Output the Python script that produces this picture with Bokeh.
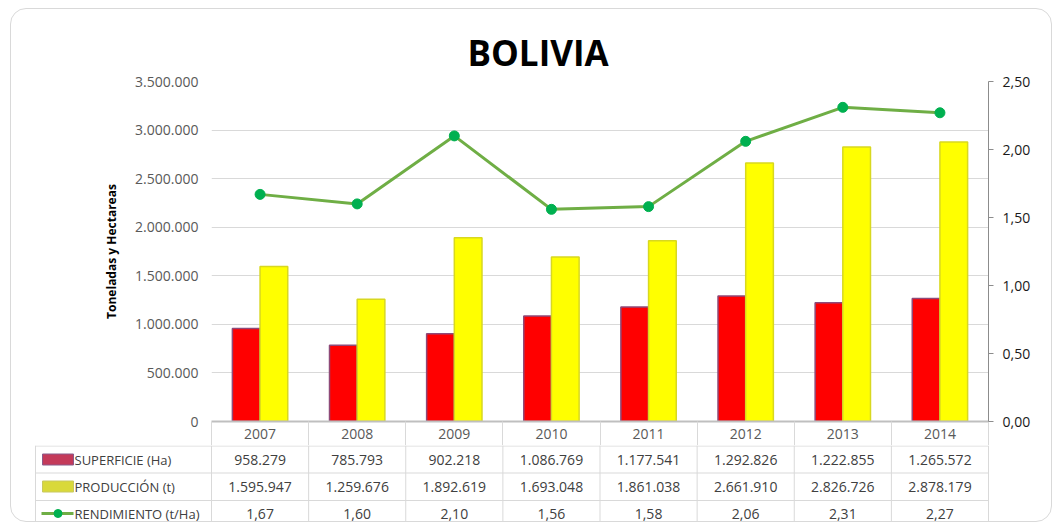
from bokeh.plotting import figure
from bokeh.layouts import column
from bokeh.models import (Range1d, LinearAxis, FixedTicker, CustomJSTickFormatter,
                          ColumnDataSource)
from bokeh.core.properties import value
from bokeh.transform import dodge
from bokeh.embed import file_html
from bokeh.resources import INLINE

# ---------------- data ----------------
years = ["2007", "2008", "2009", "2010", "2011", "2012", "2013", "2014"]
superficie = [958279, 785793, 902218, 1086769, 1177541, 1292826, 1222855, 1265572]
produccion = [1595947, 1259676, 1892619, 1693048, 1861038, 2661910, 2826726, 2878179]
rendimiento = [1.67, 1.60, 2.10, 1.56, 1.58, 2.06, 2.31, 2.27]
left_ticks = [0, 500000, 1000000, 1500000, 2000000, 2500000, 3000000, 3500000]
right_ticks = [0.0, 0.5, 1.0, 1.5, 2.0, 2.5]
series_names = ["SUPERFICIE (Ha)", "PRODUCCIÓN (t)", "RENDIMIENTO (t/Ha)"]
title_text = "BOLIVIA"
y_label = "Toneladas y Hectareas"

# ---------------- layout (page pixels) ----------------
N = len(years)
Y_MAX = left_ticks[-1]
Y2_MAX = right_ticks[-1]
BOX_L, BOX_T = 10, 8          # rounded chart border
BORDER = 1
OX, OY = BOX_L + BORDER, BOX_T + BORDER   # content origin
CONTENT_W = 1040
FRAME_L, FRAME_T, FRAME_W, FRAME_H = 211, 81, 777, 340
FRAME_R = FRAME_L + FRAME_W
FRAME_B = FRAME_T + FRAME_H
HEADER_B = 445                 # bottom of the year row (x axis panel)
HEADER_H = HEADER_B - FRAME_B
TABLE_B = 521
TABLE_L = 35
ROW_LINES = [445.5, 472.5, 500]
ROW_CENTERS = [459, 486, 513]
TITLE_L = 467
FONT = "Open Sans"
GRID = "#d9d9d9"


def dx(px):
    return (px - FRAME_L) / FRAME_W * N


def es_int(v):
    return f"{v:,}".replace(",", ".")


def es_dec(v):
    return f"{v:.2f}".replace(".", ",")


# ---------------- chart ----------------
p = figure(width=CONTENT_W, height=HEADER_B - OY,
           x_range=Range1d(0, N), y_range=Range1d(0, Y_MAX),
           output_backend="svg", toolbar_location=None,
           min_border_left=FRAME_L - OX, min_border_right=CONTENT_W - (FRAME_R - OX),
           min_border_top=FRAME_T - OY, min_border_bottom=HEADER_H)
p.frame_align = False
p.outline_line_color = None
p.background_fill_color = "white"
p.border_fill_color = None
p.xgrid.visible = False
p.ygrid.grid_line_color = GRID
p.ygrid.grid_line_width = 1

p.title.text = title_text
p.title.text_font = FONT
p.title.text_font_style = "bold"
p.title.text_font_size = "35px"
p.title.text_color = "#000000"
p.title.align = "left"
p.title.offset = TITLE_L - FRAME_L
p.title.standoff = 12

# category axis = year row of the table
xa = p.xaxis[0]
xa.ticker = FixedTicker(ticks=[i + 0.5 for i in range(N)], minor_ticks=list(range(N + 1)))
xa.formatter = CustomJSTickFormatter(args=dict(labels=years),
                                     code="return labels[Math.floor(tick)];")
xa.axis_line_color = "#bfbfbf"
xa.axis_line_width = 2
xa.major_tick_line_color = None
xa.major_tick_out = 0
xa.major_tick_in = 0
xa.minor_tick_line_color = GRID
xa.minor_tick_out = HEADER_H
xa.minor_tick_in = 0
xa.major_label_text_font = FONT
xa.major_label_text_font_size = "14px"
xa.major_label_text_color = "#595959"
xa.major_label_standoff = 7 - HEADER_H

ya = p.yaxis[0]
ya.ticker = FixedTicker(ticks=left_ticks)
ya.formatter = CustomJSTickFormatter(
    code=r'return Math.round(tick).toString().replace(/\B(?=(\d{3})+(?!\d))/g, ".");')
ya.axis_line_color = None
ya.major_tick_line_color = None
ya.minor_tick_line_color = None
ya.major_tick_out = 0
ya.major_label_text_font = FONT
ya.major_label_text_font_size = "14px"
ya.major_label_text_color = "#595959"
ya.major_label_standoff = 13
ya.axis_label = y_label
ya.axis_label_text_font = FONT
ya.axis_label_text_font_style = "bold"
ya.axis_label_text_font_size = "12px"
ya.axis_label_text_color = "#000000"
ya.axis_label_standoff = 12

p.extra_y_ranges = {"r": Range1d(0, Y2_MAX)}
ax2 = LinearAxis(y_range_name="r", ticker=FixedTicker(ticks=right_ticks),
                 formatter=CustomJSTickFormatter(code='return tick.toFixed(2).replace(".", ",");'))
ax2.axis_line_color = "#8c8c8c"
ax2.major_tick_line_color = "#8c8c8c"
ax2.major_tick_out = 5
ax2.major_tick_in = 0
ax2.minor_tick_line_color = None
ax2.major_label_text_font = FONT
ax2.major_label_text_font_size = "14px"
ax2.major_label_text_color = "#1a1a1a"
ax2.major_label_standoff = 9
p.add_layout(ax2, "right")

src = ColumnDataSource(dict(x=[i + 0.5 for i in range(N)], sup=superficie,
                            prod=produccion, rend=rendimiento))
BW = 0.285
p.vbar(x=dodge("x", -BW / 2), top="sup", width=BW, source=src,
       fill_color="#ff0000", line_color="#8e4a78", line_width=1.5)
p.vbar(x=dodge("x", BW / 2), top="prod", width=BW, source=src,
       fill_color="#ffff00", line_color="#d8d820", line_width=1.5)
p.line(x="x", y="rend", y_range_name="r", source=src, line_color="#6fae45", line_width=3)
p.scatter(x="x", y="rend", y_range_name="r", source=src, size=10,
          fill_color="#00b050", line_color="#00b050")

# ---------------- data table ----------------
t = figure(width=CONTENT_W, height=TABLE_B - HEADER_B,
           x_range=Range1d(dx(OX), dx(OX + CONTENT_W)),
           y_range=Range1d(TABLE_B, HEADER_B),
           x_axis_location=None, y_axis_location=None,
           output_backend="svg", toolbar_location=None,
           min_border=0, min_border_left=0, min_border_right=0,
           min_border_top=0, min_border_bottom=0)
t.frame_align = False
t.outline_line_color = None
t.background_fill_color = None
t.border_fill_color = None
t.xgrid.visible = False
t.ygrid.visible = False

t.segment(x0=[dx(TABLE_L)] * len(ROW_LINES), y0=ROW_LINES,
          x1=[N] * len(ROW_LINES), y1=ROW_LINES, line_color=GRID, line_width=1)
vx = [dx(TABLE_L)] + list(range(N + 1))
t.segment(x0=vx, y0=[HEADER_B] * len(vx), x1=vx, y1=[TABLE_B] * len(vx),
          line_color=GRID, line_width=1)

rows = [[es_int(v) for v in superficie],
        [es_int(v) for v in produccion],
        [es_dec(v) for v in rendimiento]]
for r, texts in enumerate(rows):
    ts = ColumnDataSource(dict(x=[i + 0.5 for i in range(N)],
                               y=[ROW_CENTERS[r]] * N, txt=texts))
    t.text(x="x", y="y", text="txt", source=ts, text_font=value(FONT),
           text_font_size="14px", text_color="#404040", text_align="center",
           text_baseline="middle")

# legend keys + series labels
KEY_L, KEY_R = 42, 73
t.quad(left=[dx(KEY_L)], right=[dx(KEY_R)], top=[ROW_CENTERS[0] - 5.5],
       bottom=[ROW_CENTERS[0] + 5.5], fill_color="#c43a5a", line_color="#8a5a8a",
       line_width=1)
t.quad(left=[dx(KEY_L)], right=[dx(KEY_R)], top=[ROW_CENTERS[1] - 5.5],
       bottom=[ROW_CENTERS[1] + 5.5], fill_color="#d9d93a", line_color="#c8c860",
       line_width=1)
t.segment(x0=[dx(KEY_L - 1)], y0=[ROW_CENTERS[2]], x1=[dx(KEY_R)], y1=[ROW_CENTERS[2]],
          line_color="#6fae45", line_width=3)
t.scatter(x=[dx((KEY_L + KEY_R) / 2)], y=[ROW_CENTERS[2]], size=8,
          fill_color="#00b050", line_color="#00b050")
t.text(x=[dx(KEY_R + 1)] * 3, y=ROW_CENTERS, text=series_names,
       text_font=value(FONT), text_font_size="13px", text_color="#404040",
       text_align="left", text_baseline="middle")

layout = column(p, t, spacing=0, margin=(BOX_T, 0, 0, BOX_L),
                styles={"border": f"{BORDER}px solid #d9d9d9", "border-radius": "16px",
                        "overflow": "hidden"})

open("out.html", "w").write(file_html(layout, INLINE))
